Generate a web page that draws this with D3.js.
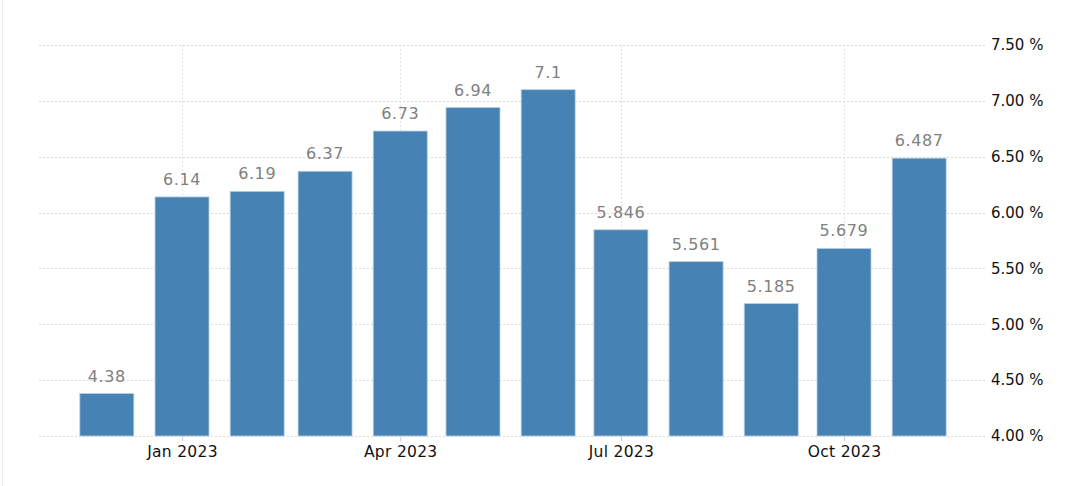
<!DOCTYPE html>
<html>
<head>
<meta charset="utf-8">
<script src="https://cdn.jsdelivr.net/npm/d3@7"></script>
<style>
html,body{margin:0;padding:0;background:#fff;}
svg{display:block;}
</style>
</head>
<body>
<svg id="chart" width="1072" height="486"></svg>
<script>
const months = ["2022-12","2023-01","2023-02","2023-03","2023-04","2023-05","2023-06","2023-07","2023-08","2023-09","2023-10","2023-11"];
const values = [4.38, 6.14, 6.19, 6.37, 6.73, 6.94, 7.1, 5.846, 5.561, 5.185, 5.679, 6.487];
const valueLabels = ["4.38","6.14","6.19","6.37","6.73","6.94","7.1","5.846","5.561","5.185","5.679","6.487"];
const yTicks = [4.0, 4.5, 5.0, 5.5, 6.0, 6.5, 7.0, 7.5];
const xTickMonths = ["2023-01","2023-04","2023-07","2023-10"];

const parse = d3.timeParse("%Y-%m");
const svg = d3.select("#chart");
const font = "Tahoma, 'DejaVu Sans', sans-serif";

const x = d3.scaleTime()
  .domain([parse("2023-01"), parse("2023-10")])
  .range([182, 844]);
const y = d3.scaleLinear().domain([4, 7.5]).range([436, 45]);

// left frame line
svg.append("line").attr("x1",2.5).attr("x2",2.5).attr("y1",0).attr("y2",486)
  .attr("stroke","#ececec").attr("stroke-width",1);

// y axis labels
const yAxis = d3.axisRight(y).tickValues(yTicks).tickSize(0)
  .tickFormat(d => d3.format(".2f")(d) + " %");
const gy = svg.append("g").attr("transform","translate(988,0)").call(yAxis);
gy.select(".domain").remove();
gy.selectAll("text").attr("x",3).attr("font-family",font).attr("font-size",15).attr("fill","#111");

// horizontal grid
svg.append("g").selectAll("line").data(yTicks).join("line")
  .attr("x1",39).attr("x2",986)
  .attr("y1",d=>Math.round(y(d))+0.5).attr("y2",d=>Math.round(y(d))+0.5)
  .attr("stroke","#d9d9d9").attr("stroke-dasharray","2,2");

// vertical grid
svg.append("g").selectAll("line").data(xTickMonths).join("line")
  .attr("x1",d=>Math.round(x(parse(d)))+0.5).attr("x2",d=>Math.round(x(parse(d)))+0.5)
  .attr("y1",y(7.5)).attr("y2",y(4))
  .attr("stroke","#e2e2e2").attr("stroke-dasharray","2,2");

// bars
const bw = 54;
svg.append("g").selectAll("rect").data(values).join("rect")
  .attr("x",(d,i)=>x(parse(months[i]))-bw/2)
  .attr("y",d=>y(d))
  .attr("width",bw)
  .attr("height",d=>y(4)-y(d))
  .attr("fill","#4682b4")
  .attr("stroke","#b9cfe3").attr("stroke-width",0.8);

// value labels
svg.append("g").selectAll("text").data(values).join("text")
  .attr("x",(d,i)=>x(parse(months[i])))
  .attr("y",d=>y(d)-12)
  .attr("text-anchor","middle")
  .attr("font-family",font).attr("font-size",16)
  .attr("letter-spacing","0.6px")
  .attr("fill","#808080")
  .text((d,i)=>valueLabels[i]);

// x axis
const xAxis = d3.axisBottom(x).tickValues(xTickMonths.map(parse)).tickSize(5).tickSizeOuter(0)
  .tickFormat(d3.timeFormat("%b %Y"));
const gx = svg.append("g").attr("transform","translate(0,436)").call(xAxis);
gx.select(".domain").remove();
gx.selectAll(".tick line").attr("stroke","#cccccc");
gx.selectAll("text").attr("y",10).attr("font-family",font).attr("font-size",15.5).attr("letter-spacing","0.3px").attr("fill","#111");
</script>
</body>
</html>
